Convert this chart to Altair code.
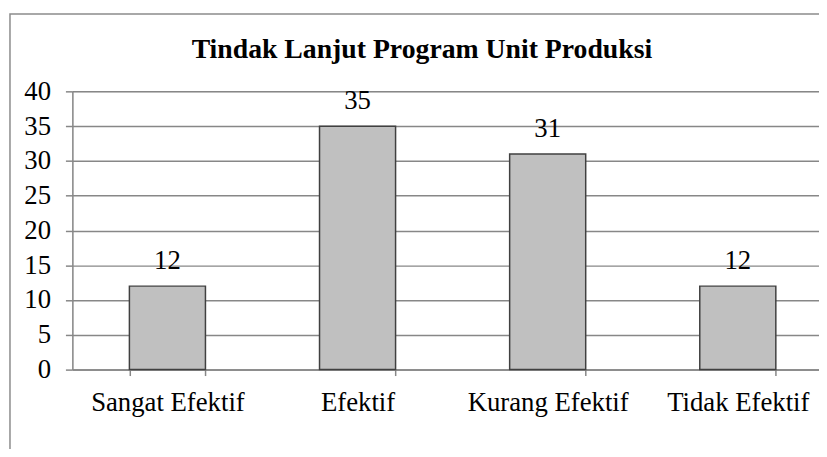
import altair as alt
import pandas as pd

categories = ["Sangat Efektif", "Efektif", "Kurang Efektif", "Tidak Efektif"]
values = [12, 35, 31, 12]
y_ticks = [0, 5, 10, 15, 20, 25, 30, 35, 40]
title_text = "Tindak Lanjut Program Unit Produksi"

df = pd.DataFrame({"cat": categories, "val": values})
FONT = "'Liberation Serif', 'Times New Roman', serif"
GRID = "#878787"

x_enc = alt.X(
    "cat:N", sort=categories,
    scale=alt.Scale(paddingInner=0.6, paddingOuter=0.3),
    axis=alt.Axis(title=None, labelAngle=0, tickBand="extent", tickSize=6,
                  labelPadding=35, labelBaseline="alphabetic",
                  labelFont=FONT, labelFontSize=27, labelColor="black",
                  domainColor=GRID, tickColor=GRID, domainWidth=1.5, tickWidth=1.5,
                  grid=False),
)
y_enc = alt.Y(
    "val:Q", scale=alt.Scale(domain=[0, 40], nice=False),
    axis=alt.Axis(title=None, values=y_ticks, tickSize=7, labelPadding=15,
                  labelFont=FONT, labelFontSize=27, labelColor="black",
                  labelBaseline="middle",
                  domainColor=GRID, tickColor=GRID, gridColor=GRID,
                  domainWidth=1.5, tickWidth=1.5, gridWidth=1.5, gridOpacity=1),
)

base = alt.Chart(df)
bars = base.mark_bar(fill="#C0C0C0", stroke="#404040", strokeWidth=1.5).encode(x=x_enc, y=y_enc)
labels = base.mark_text(dy=-17, baseline="alphabetic", font=FONT, fontSize=27,
                        color="black").encode(x=x_enc, y=y_enc, text="val:Q")

frame = alt.Chart(pd.DataFrame({"a": [0]})).mark_rect(
    fillOpacity=0, stroke="#8c8c8c", strokeWidth=1.5
).encode(x=alt.value(-63), x2=alt.value(900), y=alt.value(-78), y2=alt.value(500))

chart = alt.layer(frame, bars, labels).properties(
    width=768, height=281,
    title=alt.TitleParams(title_text, font=FONT, fontSize=28, fontWeight="bold",
                          color="black", anchor="middle", frame="group",
                          baseline="alphabetic", offset=0, dy=73, dx=-31),
    autosize=alt.AutoSizeParams(type="none"),
    padding={"left": 65, "top": 82, "right": -14, "bottom": 78},
).configure_view(stroke=None).configure(background="white")

chart.save("out.html", embed_options={"renderer": "svg", "actions": False})
